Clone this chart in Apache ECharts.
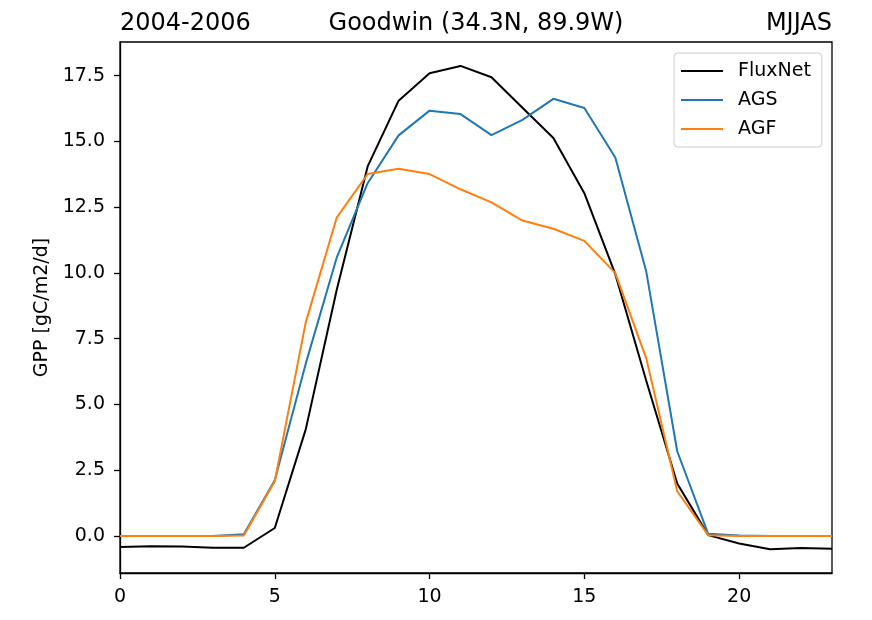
<!DOCTYPE html>
<html>
<head>
<meta charset="utf-8">
<script src="https://cdn.jsdelivr.net/npm/echarts@6/dist/echarts.min.js"></script>
<style>
  html, body { margin: 0; padding: 0; background: #fff; }
  #chart { width: 872px; height: 620px; }
</style>
</head>
<body>
<div id="chart"></div>
<script>
// hour of day
const hours = [0, 1, 2, 3, 4, 5, 6, 7, 8, 9, 10, 11, 12, 13, 14, 15, 16, 17, 18, 19, 20, 21, 22, 23];

const fluxnet = [-0.42, -0.39, -0.40, -0.45, -0.45, 0.30, 4.05, 9.35, 14.05, 16.55, 17.59, 17.87,
                 17.44, 16.28, 15.13, 13.03, 9.95, 5.9, 1.99, 0.03, -0.29, -0.51, -0.46, -0.49];
const ags = [0.0, 0.0, 0.0, 0.0, 0.06, 2.12, 6.55, 10.58, 13.41, 15.23, 16.17, 16.04,
             15.24, 15.82, 16.62, 16.27, 14.39, 10.05, 3.22, 0.08, 0.02, 0.0, 0.0, 0.0];
const agf = [0.0, 0.0, 0.0, 0.0, 0.02, 2.08, 8.12, 12.1, 13.76, 13.96, 13.76, 13.18,
             12.68, 11.99, 11.68, 11.22, 9.99, 6.75, 1.70, 0.03, 0.0, 0.0, 0.0, 0.0];

const yTicks = [0, 2.5, 5, 7.5, 10, 12.5, 15, 17.5];
const xTicks = [0, 5, 10, 15, 20];

const FONT = 'DejaVu Sans';

const chart = echarts.init(document.getElementById('chart'), null, { renderer: 'canvas' });

const pairs = arr => hours.map((h, i) => [h, arr[i]]);

const lineSeries = (name, data, color) => ({
    name: name,
    type: 'line',
    symbol: 'none',
    data: pairs(data),
    lineStyle: { color: color, width: 2 },
    itemStyle: { color: color },
});

const titleStyle = { fontFamily: FONT, fontSize: 24, fontWeight: 'normal', color: '#000' };

chart.setOption({
    animation: false,
    backgroundColor: '#fff',
    textStyle: { fontFamily: FONT, color: '#000' },
    title: [
        { text: '2004-2006', left: 120, top: 12, padding: 0, textStyle: titleStyle },
        { text: 'Goodwin (34.3N, 89.9W)', left: 476, top: 12, padding: 0, textAlign: 'center', textStyle: titleStyle },
        { text: 'MJJAS', right: 40, top: 12, padding: 0, textStyle: titleStyle },
    ],
    legend: {
        orient: 'vertical',
        left: 674,
        top: 53,
        padding: [7, 11, 7, 7],
        icon: 'rect',
        itemWidth: 42,
        itemHeight: 2,
        itemGap: 7,
        borderColor: '#cccccc',
        borderWidth: 1,
        borderRadius: 4,
        backgroundColor: 'rgba(255,255,255,0.8)',
        textStyle: { fontFamily: FONT, fontSize: 19, color: '#000', lineHeight: 22, padding: [0, 0, 0, 10] },
        data: ['FluxNet', 'AGS', 'AGF'],
    },
    grid: {
        left: 120,
        right: 40,
        top: 42,
        bottom: 47,
        show: true,
        borderColor: '#000',
        borderWidth: 1.3,
        backgroundColor: 'transparent',
    },
    xAxis: {
        type: 'value',
        min: 0,
        max: 23,
        axisLine: { show: true, onZero: false, lineStyle: { color: '#000', width: 1.3 } },
        axisTick: { show: true, inside: false, length: 6, customValues: xTicks,
                    lineStyle: { color: '#000', width: 1.3 } },
        axisLabel: { customValues: xTicks, fontSize: 19, color: '#000', fontFamily: FONT, margin: 15 },
        splitLine: { show: false },
    },
    yAxis: {
        type: 'value',
        min: -1.41,
        max: 18.78,
        name: 'GPP [gC/m2/d]',
        nameLocation: 'middle',
        nameGap: 67,
        nameRotate: 90,
        nameTextStyle: { fontFamily: FONT, fontSize: 19, color: '#000' },
        axisLine: { show: true, onZero: false, lineStyle: { color: '#000', width: 1.3 } },
        axisTick: { show: true, inside: false, length: 6, customValues: yTicks,
                    lineStyle: { color: '#000', width: 1.3 } },
        axisLabel: { customValues: yTicks, fontSize: 19, color: '#000', fontFamily: FONT, margin: 15,
                     formatter: v => v.toFixed(1) },
        splitLine: { show: false },
    },
    series: [
        lineSeries('FluxNet', fluxnet, '#000000'),
        lineSeries('AGS', ags, '#1f77b4'),
        lineSeries('AGF', agf, '#ff7f0e'),
    ],
});
</script>
</body>
</html>
